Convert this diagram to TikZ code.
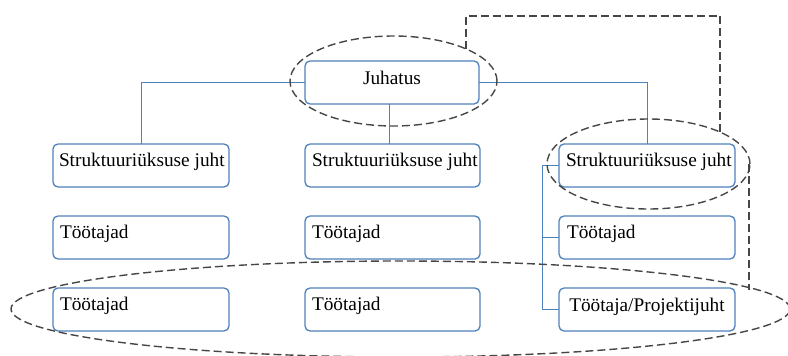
\documentclass[tikz,border=0pt]{standalone}
\usepackage{fontspec}
\setmainfont{Liberation Serif}
\usetikzlibrary{shapes.geometric}
\definecolor{boxblue}{RGB}{79,129,189}
\definecolor{dashgray}{RGB}{70,70,70}
\tikzset{
  box/.style={draw=boxblue, line width=1.3pt, rounded corners=5pt, fill=white,
    minimum width=176pt, minimum height=43pt, inner sep=0pt, outer sep=0pt},
  lbl/.style={inner sep=0pt, outer sep=0pt, font=\fontsize{19.3}{23}\selectfont},
  conn/.style={draw=boxblue, line width=1pt},
  dsh/.style={draw=dashgray, line width=1.4pt, dash pattern=on 8pt off 4pt},
  ring/.style={ellipse, dsh, inner sep=0pt, outer sep=0pt}
}
\begin{document}
\begin{tikzpicture}[x=1pt, y=-1pt]
\useasboundingbox (0,0) rectangle (788,356);

% top management
\node[box, minimum width=174pt] (J) at (392,82.5) {};
\node[lbl, anchor=base] (Jt) at ([yshift=-23pt]J.north) {Juhatus};

% unit heads
\node[box] (L1) at (141,165.5) {};
\node[box, minimum width=175pt] (M1) at (392.5,165.5) {};
\node[box] (R1) at (647,165.5) {};
% staff rows
\node[box] (L2) at (141,237.5) {};
\node[box, minimum width=175pt] (M2) at (392.5,237.5) {};
\node[box] (R2) at (647,237.5) {};
\node[box] (L3) at (141,309.5) {};
\node[box, minimum width=175pt] (M3) at (392.5,309.5) {};
\node[box] (R3) at (647,309.5) {};

\node[lbl, anchor=base west] (L1t) at ([xshift=6pt,yshift=-22pt]L1.north west) {Struktuuriüksuse juht};
\node[lbl, anchor=base west] (M1t) at ([xshift=7pt,yshift=-22pt]M1.north west) {Struktuuriüksuse juht};
\node[lbl, anchor=base west] (R1t) at ([xshift=7pt,yshift=-22pt]R1.north west) {Struktuuriüksuse juht};
\node[lbl, anchor=base west] (L2t) at ([xshift=7pt,yshift=-22pt]L2.north west) {Töötajad};
\node[lbl, anchor=base west] (M2t) at ([xshift=7pt,yshift=-22pt]M2.north west) {Töötajad};
\node[lbl, anchor=base west] (R2t) at ([xshift=8pt,yshift=-22pt]R2.north west) {Töötajad};
\node[lbl, anchor=base west] (L3t) at ([xshift=7pt,yshift=-22pt]L3.north west) {Töötajad};
\node[lbl, anchor=base west] (M3t) at ([xshift=7pt,yshift=-22pt]M3.north west) {Töötajad};
\node[lbl, anchor=base] (R3t) at ([yshift=-23pt]R3.north) {Töötaja/Projektijuht};

% reporting lines
\draw[conn] (J.west) -| (L1.north);
\draw[conn] (J.east) -| (R1.north);
\draw[conn] ([xshift=-3pt]J.south) -- ([xshift=-3pt]J.south |- M1.north);
\draw[conn] (R1.west) -- ++(-17,0) coordinate (bk) |- (R3.west);
\draw[conn] (R2.west) -- (bk |- R2.west);

% dashed groupings
\node[ring, minimum width=207pt, minimum height=90pt] (EJ) at (393.5,81) {};
\node[ring, minimum width=203pt, minimum height=90pt] (ER) at (648.5,164) {};
\node[ring, minimum width=779pt, minimum height=96pt] (EB) at (400.5,309) {};

\draw[dsh] (EJ.24) -- ++(0,-33) -| (ER.24);
\draw[dsh] ([xshift=-1pt]ER.east) -- ([xshift=-1pt]ER.east |- EB.3.5);
\end{tikzpicture}
\end{document}
